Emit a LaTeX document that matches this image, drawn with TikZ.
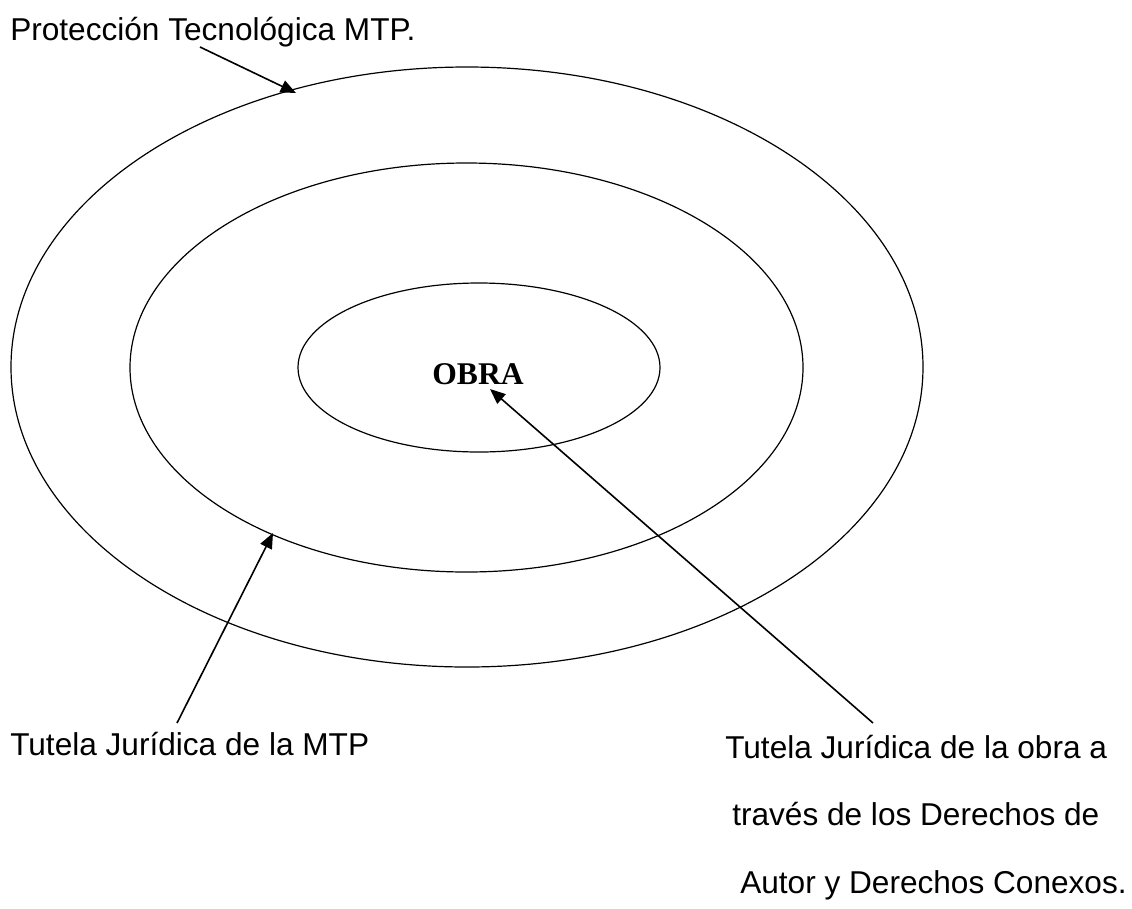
\documentclass[tikz,border=0pt]{standalone}
\usepackage{fontspec}
\setmainfont{Liberation Sans}
\newfontfamily\obrafont{Liberation Serif}
\usetikzlibrary{shapes.geometric,arrows.meta}
\begin{document}
\begin{tikzpicture}[x=0.75pt,y=-0.75pt,
  ring/.style={draw, ellipse, line width=0.9pt, inner sep=0pt, outer sep=0pt},
  lbl/.style={anchor=base west, inner sep=0pt, font=\fontsize{23.7}{28}\selectfont},
  arr/.style={line width=1.2pt, -{Triangle[length=11.5pt,width=9.5pt]}}]
\useasboundingbox (0,0) rectangle (1132,908);
% rings
\node[ring, minimum width=684pt, minimum height=450pt] (outer) at (467,367) {};
\node[ring, minimum width=504.75pt, minimum height=306.75pt] (middle) at (466.5,367.5) {};
\node[ring, minimum width=271.5pt, minimum height=126.75pt] (inner) at (479,367.5) {};
\node[anchor=base, inner sep=0pt, font=\obrafont\bfseries\fontsize{23.7}{28}\selectfont] (obra) at (478,384) {OBRA};
% labels
\node[lbl] (ptm) at (10,40) {Protección Tecnológica MTP.};
\node[lbl] (tjm) at (10,755) {Tutela Jurídica de la MTP};
\node[lbl] (r1) at (725,758) {Tutela Jurídica de la obra a};
\node[lbl] (r2) at (732,825) {través de los Derechos de};
\node[lbl] (r3) at (740,893) {Autor y Derechos Conexos.};
% arrow ends
\coordinate (aT) at (200,47);
\coordinate (aH) at (296,93);
\coordinate (bT) at (177,723);
\coordinate (bH) at (273,533);
\coordinate (cT) at (873,723);
\coordinate (cH) at (490,389);
\draw[arr] (aT) -- (aH);
\draw[arr] (bT) -- (bH);
\draw[arr] (cT) -- (cH);
\end{tikzpicture}
\end{document}
